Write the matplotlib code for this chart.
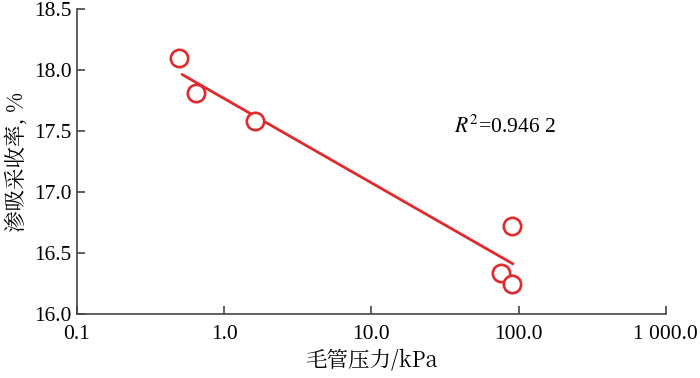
import numpy as np
import matplotlib.pyplot as plt

# capillary pressure (kPa) vs imbibition recovery (%)
pressure = [0.49, 0.645, 1.63, 91.0, 75.5, 90.0]
recovery = [18.10, 17.81, 17.58, 16.72, 16.34, 16.25]
fit_range = [0.51, 93.0]
r2_text = "=0.946 2"

x_ticks = [0.1, 1, 10, 100, 1000]
x_ticklabels = ["0.1", "1.0", "10.0", "100.0", "1 000.0"]
y_ticks = [16.0, 16.5, 17.0, 17.5, 18.0, 18.5]

plt.rcParams['mathtext.fontset'] = 'stix'

red = '#e2292b'
serif = ['Liberation Serif', 'DejaVu Serif']
cjk = ['Noto Serif CJK SC', 'Noto Sans CJK SC', 'Liberation Serif']

fig = plt.figure(figsize=(7, 3.78), dpi=100)
ax = fig.add_axes([0.11, 0.169, 0.841, 0.807])

# log-linear regression line
k, b = np.polyfit(np.log10(pressure), recovery, 1)
xf = np.array(fit_range)
ax.plot(xf, k * np.log10(xf) + b, color=red, lw=2.0, solid_capstyle='butt')
ax.plot(pressure, recovery, 'o', ms=12.5, mfc='white', mec=red, mew=1.9)

ax.set_xscale('log')
ax.set_xlim(0.1, 1000)
ax.set_ylim(16.0, 18.5)
ax.set_xticks(x_ticks)
ax.set_xticklabels(x_ticklabels)
ax.minorticks_off()
ax.set_yticks(y_ticks)
ax.set_yticklabels([f"{v:.1f}" for v in y_ticks])

for s in ['top', 'right']:
    ax.spines[s].set_visible(False)
for s in ['left', 'bottom']:
    ax.spines[s].set_color('#444444')
    ax.spines[s].set_linewidth(1.2)
ax.tick_params(direction='in', length=6, width=1.2, color='#444444',
               labelsize=15.5, pad=4)
for lab in ax.get_xticklabels() + ax.get_yticklabels():
    lab.set_family(serif)
ax.tick_params(axis='x', pad=8)

ax.set_xlabel("毛管压力/kPa", family=cjk, fontsize=15.5, labelpad=3)
ax.set_ylabel("渗吸采收率, %", family=cjk, fontsize=15.5, labelpad=4)

ax.text(0.64, 0.614, r"$R^2$" + r2_text, transform=ax.transAxes,
        family=serif, fontsize=15.5, ha='left', va='center')

fig.savefig('out.png', dpi=100)
